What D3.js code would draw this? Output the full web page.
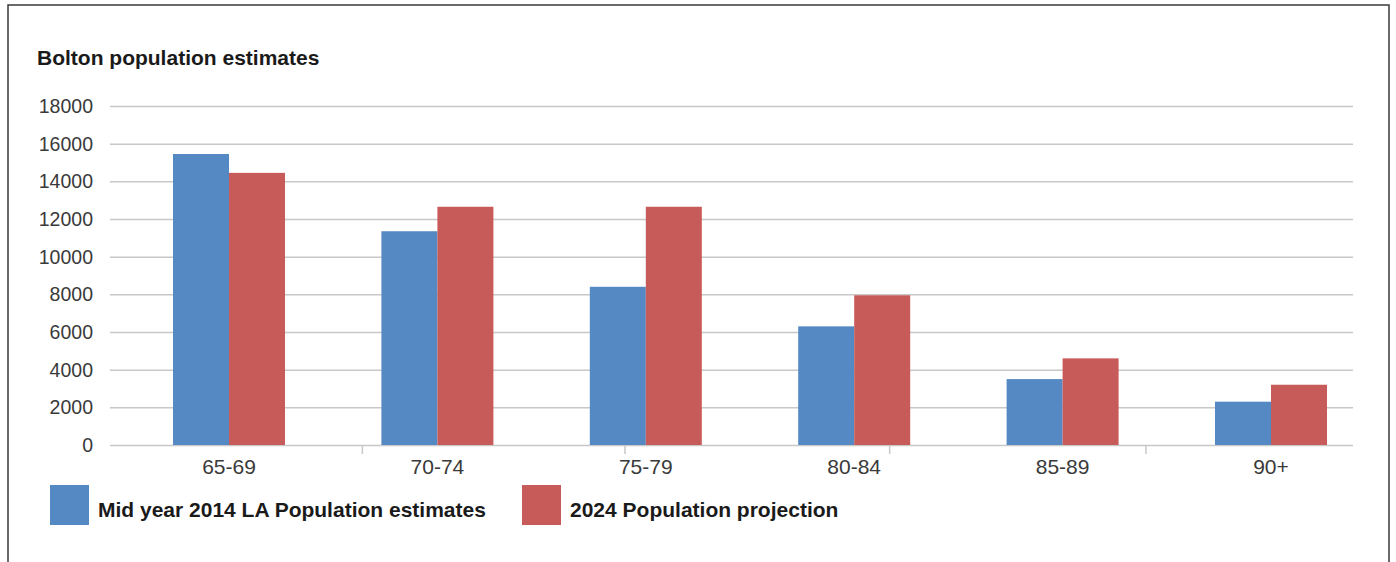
<!DOCTYPE html>
<html>
<head>
<meta charset="utf-8">
<script src="https://cdn.jsdelivr.net/npm/d3@7"></script>
<style>
  html, body { margin: 0; padding: 0; background: #fff; }
  svg { display: block; font-family: "Liberation Sans", Arial, Helvetica, sans-serif; }
</style>
</head>
<body>
<svg id="chart" width="1396" height="562"></svg>
<script>
// ---- data ----
const categories = ["65-69", "70-74", "75-79", "80-84", "85-89", "90+"];
const seriesNames = ["Mid year 2014 LA Population estimates", "2024 Population projection"];
const estimates2014 = [15450, 11350, 8400, 6300, 3500, 2300];
const projection2024 = [14450, 12650, 12650, 7950, 4600, 3200];
const yTicks = [0, 2000, 4000, 6000, 8000, 10000, 12000, 14000, 16000, 18000];
// axis tick marks along the category axis, in category-index units (as in the original)
const xTickMarks = [0.64, 1.9, 3.17, 4.4];
const title = "Bolton population estimates";

// ---- layout ----
const W = 1396, H = 562;
const colors = ["#5589c4", "#c75b59"];
const gridLeft = 110, gridRight = 1353;
const y0px = 445, yTopPx = 106;

const svg = d3.select("#chart");

// outer frame
svg.append("path")
  .attr("d", `M8,${H + 2} L8,5 L1389,5 L1389,${H + 2}`)
  .attr("fill", "none").attr("stroke", "#3a3a3a").attr("stroke-width", 1.5);

// title
svg.append("text")
  .attr("x", 37).attr("y", 65)
  .attr("font-size", 21).attr("font-weight", "bold").attr("fill", "#1a1a1a")
  .text(title);

// scales
const y = d3.scaleLinear().domain([0, 18000]).range([y0px, yTopPx]);
const x = d3.scaleBand().domain(categories).range([124.8, 1375.2]).paddingInner(0.4626).paddingOuter(0.2313);
const xSub = d3.scaleBand().domain(seriesNames).range([0, x.bandwidth()]);
const xIdx = d3.scaleLinear().domain([0, categories.length - 1])
  .range([x(categories[0]) + x.bandwidth() / 2, x(categories[categories.length - 1]) + x.bandwidth() / 2]);

// y axis with gridlines
const yAxis = svg.append("g").attr("transform", `translate(${gridLeft},0)`)
  .call(d3.axisLeft(y).tickValues(yTicks).tickFormat(d3.format("d"))
    .tickSize(-(gridRight - gridLeft)).tickPadding(17));
yAxis.select(".domain").remove();
yAxis.selectAll(".tick line").attr("stroke", "#c8c8c8").attr("stroke-width", 1.5);
yAxis.selectAll(".tick text").attr("font-size", 19.5).attr("fill", "#3a3a3a")
  .attr("font-family", "'Liberation Sans', Arial, sans-serif").attr("dy", "0.34em");

// bars
const data = categories.map((c, i) => ({ cat: c, values: [estimates2014[i], projection2024[i]] }));
const groups = svg.append("g").selectAll("g").data(data).join("g")
  .attr("transform", d => `translate(${x(d.cat)},0)`);
groups.selectAll("rect").data(d => d.values.map((v, j) => ({ v, j })))
  .join("rect")
  .attr("x", d => xSub(seriesNames[d.j]))
  .attr("width", xSub.bandwidth())
  .attr("y", d => y(d.v))
  .attr("height", d => y(0) - y(d.v))
  .attr("fill", d => colors[d.j]);

// category axis tick marks
svg.append("g").selectAll("line").data(xTickMarks).join("line")
  .attr("x1", d => xIdx(d)).attr("x2", d => xIdx(d))
  .attr("y1", y0px).attr("y2", y0px + 9)
  .attr("stroke", "#c8c8c8").attr("stroke-width", 1.5);

// category labels
svg.append("g").selectAll("text").data(categories).join("text")
  .attr("x", d => x(d) + x.bandwidth() / 2)
  .attr("y", 474)
  .attr("text-anchor", "middle")
  .attr("font-size", 21).attr("fill", "#3a3a3a")
  .text(d => d);

// legend
const legendItems = [
  { name: seriesNames[0], color: colors[0], sx: 50, tx: 98 },
  { name: seriesNames[1], color: colors[1], sx: 522, tx: 570 }
];
const lg = svg.append("g").selectAll("g").data(legendItems).join("g");
lg.append("rect").attr("x", d => d.sx).attr("y", 485).attr("width", 39).attr("height", 40).attr("fill", d => d.color);
lg.append("text").attr("x", d => d.tx).attr("y", 517)
  .attr("font-size", 21).attr("font-weight", "bold").attr("fill", "#1a1a1a")
  .text(d => d.name);
</script>
</body>
</html>
